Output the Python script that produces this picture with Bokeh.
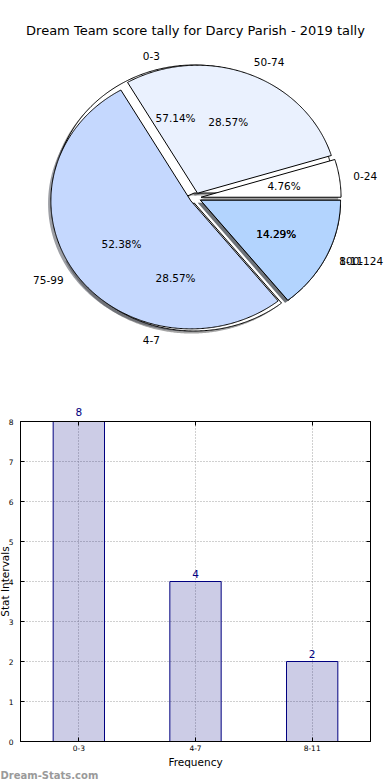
import numpy as np
from bokeh.plotting import figure
from bokeh.models import (Range1d, ColumnDataSource, Label, Title,
                          LinearAxis, SingleIntervalTicker, FixedTicker)
from bokeh.embed import file_html
from bokeh.resources import INLINE
from bokeh.core.properties import value

# ---------------- data ----------------
title_text = "Dream Team score tally for Darcy Parish - 2019 tally"
tally_labels = ["0-24", "50-74", "75-99", "100-124"]
tally_values = [1, 6, 11, 3]
tally_colors = ["#ffffff", "#eaf1fe", "#c5d8fe", "#b3d4fe"]
freq_labels = ["0-3", "4-7", "8-11"]
freq_values = [8, 4, 2]
freq_colors = ["#ffffff", "#ffffff", "#ffffff"]
x_axis_title = "Frequency"
y_axis_title = "Stat Intervals"
y_max = 8
y_tick_step = 1
watermark = "Dream-Stats.com"

FONT = "DejaVu Sans"
EXPLODE = 0.04
SHADOW = -0.02


def pie_geometry(vals, explode):
    vals = np.asarray(vals, float)
    edges = np.concatenate([[0.0], np.cumsum(vals)]) / vals.sum() * 2 * np.pi
    res = []
    for t1, t2 in zip(edges[:-1], edges[1:]):
        tm = 0.5 * (t1 + t2)
        ox, oy = explode * np.cos(tm), explode * np.sin(tm)
        th = np.linspace(t1, t2, max(4, int(np.degrees(t2 - t1) * 2)))
        xs = np.concatenate([[ox], ox + np.cos(th), [ox]])
        ys = np.concatenate([[oy], oy + np.sin(th), [oy]])
        res.append(dict(xs=xs, ys=ys, tm=tm, ox=ox, oy=oy, frac=(t2 - t1) / (2 * np.pi)))
    return res


def shade(hexcol):
    h = hexcol.lstrip("#")
    r, g, b = (int(h[i:i + 2], 16) for i in (0, 2, 4))
    return "#%02x%02x%02x" % (int(r * .3), int(g * .3), int(b * .3))


# ---------------- pie figure ----------------
W1, H1 = 390, 372
CX, CY = 195.0, 197.5      # pie centre in canvas pixels
RX, RY = 140.0, 128.0      # pixels per unit radius

p1 = figure(width=W1, height=H1, output_backend="svg", toolbar_location=None,
            x_range=Range1d(-CX / RX, (W1 - CX) / RX),
            y_range=Range1d(-(H1 - CY) / RY, CY / RY),
            x_axis_type=None, y_axis_type=None, min_border=0,
            outline_line_color=None, background_fill_color="white",
            border_fill_color="white")

geo_f = pie_geometry(freq_values, EXPLODE)
geo_t = pie_geometry(tally_values, EXPLODE)
pies = [(geo_f, freq_colors, freq_labels), (geo_t, tally_colors, tally_labels)]

for geo, cols, _ in pies:
    p1.patches(xs=[list(g["xs"] + SHADOW) for g in geo],
               ys=[list(g["ys"] + SHADOW) for g in geo],
               fill_color=[shade(c) for c in cols], fill_alpha=0.5, line_color=None)
for geo, cols, _ in pies:
    p1.patches(xs=[list(g["xs"]) for g in geo], ys=[list(g["ys"]) for g in geo],
               fill_color=cols, line_color="black", line_width=1)

L = dict(x=[], y=[], t=[])
R = dict(x=[], y=[], t=[])
P = dict(x=[], y=[], t=[])
for geo, cols, labels in pies:
    for g, lab in zip(geo, labels):
        xt = g["ox"] + 1.1 * np.cos(g["tm"])
        yt = g["oy"] + 1.1 * np.sin(g["tm"])
        d = L if xt > 0 else R
        d["x"].append(xt); d["y"].append(yt); d["t"].append(lab)
        P["x"].append(g["ox"] + 0.6 * np.cos(g["tm"]))
        P["y"].append(g["oy"] + 0.6 * np.sin(g["tm"]))
        P["t"].append("%1.2f%%" % (100 * g["frac"]))

common = dict(text_font=value(FONT), text_font_size="10.5px", text_color="black",
              text_baseline="middle")
p1.text(x=L["x"], y=L["y"], text=L["t"], text_align="left", **common)
p1.text(x=R["x"], y=R["y"], text=R["t"], text_align="right", **common)
p1.text(x=P["x"], y=P["y"], text=P["t"], text_align="center", **common)

p1.add_layout(Label(x=0, y=(CY - 29.5) / RY, text=title_text, text_align="center",
                    text_baseline="middle", text_font=FONT, text_font_size="13px",
                    text_color="black"))

# ---------------- bar figure ----------------
W2, H2 = 390, 408
ncat = len(freq_labels)
idx = list(range(ncat))
p2 = figure(width=W2, height=H2, x_range=Range1d(-0.5, ncat - 0.5), y_range=Range1d(0, y_max),
            output_backend="svg", toolbar_location=None,
            min_border_left=20, min_border_right=20, min_border_top=49, min_border_bottom=39,
            outline_line_color="black", background_fill_color="white",
            border_fill_color="white")

src = ColumnDataSource(dict(x=idx, val=freq_values))
p2.vbar(x="x", top="val", width=0.44, source=src, fill_color="navy", fill_alpha=0.2,
        line_color="navy", line_width=1)

xax = p2.below[0]
yax = p2.left[0]
xax.ticker = FixedTicker(ticks=idx)
xax.major_label_overrides = {i: lab for i, lab in zip(idx, freq_labels)}
p2.xgrid.ticker = FixedTicker(ticks=idx)
yax.ticker = SingleIntervalTicker(interval=y_tick_step)
p2.ygrid.ticker = SingleIntervalTicker(interval=y_tick_step)

rax = LinearAxis(ticker=SingleIntervalTicker(interval=y_tick_step))
p2.add_layout(rax, "right")

# top axis: ticks at the bar centres; carries the value labels of bars that reach the top
top_over = {i: (str(v) if v >= y_max else "") for i, v in zip(idx, freq_values)}
top_axis = LinearAxis(ticker=FixedTicker(ticks=idx), major_label_overrides=top_over)
p2.add_layout(top_axis, "above")

for ax in (xax, yax, rax, top_axis):
    ax.axis_line_color = "black"
    ax.major_tick_in = 4
    ax.major_tick_out = 0
    ax.major_tick_line_color = "black"
    ax.minor_tick_line_color = None
    ax.major_label_text_font = FONT
    ax.major_label_text_font_size = "7.5px"
    ax.major_label_text_color = "black"

yax.major_label_standoff = 3
xax.major_label_standoff = 3
rax.major_label_text_color = None
rax.major_label_standoff = 0
top_axis.major_label_text_color = "navy"
top_axis.major_label_text_font_size = "10.5px"
top_axis.major_label_standoff = 6

for gr in p2.grid:
    gr.grid_line_color = "#a0a0a0"
    gr.grid_line_dash = "1 2"
    gr.grid_line_width = 1

for i, v in zip(idx, freq_values):
    if v < y_max:
        p2.add_layout(Label(x=i, y=v, y_offset=8, text=str(v),
                            text_align="center", text_baseline="middle",
                            text_color="navy", text_font=FONT, text_font_size="10.5px"))

ytitle = Title(text=y_axis_title, align="center", standoff=0,
               text_font=FONT, text_font_size="10.5px", text_font_style="normal",
               text_color="black")
try:
    ytitle.standoff = -11
except Exception:
    ytitle.standoff = 0
p2.add_layout(ytitle, "left")
p2.add_layout(Title(text=x_axis_title, align="center", standoff=0,
                    text_font=FONT, text_font_size="10.5px", text_font_style="normal",
                    text_color="black"), "below")
p2.add_layout(Title(text=watermark, align="left", offset=-20, standoff=0,
                    text_font=FONT, text_font_size="10px", text_font_style="bold",
                    text_color="#9a9a9a"), "below")

open("out.html", "w").write(file_html([p1, p2], INLINE))
